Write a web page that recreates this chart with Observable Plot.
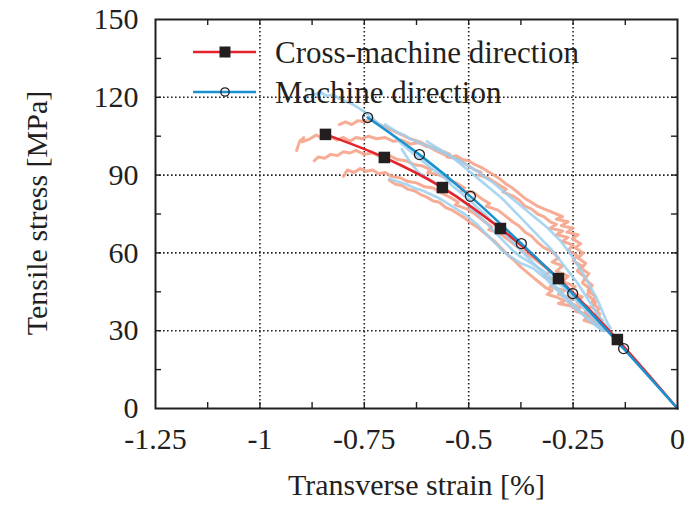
<!DOCTYPE html>
<html><head><meta charset="utf-8">
<script src="https://cdn.jsdelivr.net/npm/d3@7"></script>
<script src="https://cdn.jsdelivr.net/npm/@observablehq/plot@0.6"></script>
<style>body{margin:0;background:#fff} #chart{width:688px;height:505px}</style>
</head><body><div id="chart"></div>
<script>
// ---------- data ----------
const xTicks = [-1.25, -1, -0.75, -0.5, -0.25, 0];
const xTickLabels = ["-1.25", "-1", "-0.75", "-0.5", "-0.25", "0"];
const yTicks = [0, 30, 60, 90, 120, 150];
const yTickLabels = ["0", "30", "60", "90", "120", "150"];
const xGrid = [-1, -0.75, -0.5, -0.25];
const yGrid = [30, 60, 90, 120];
const xAllTicks = [-1.125, -1, -0.875, -0.75, -0.625, -0.5, -0.375, -0.25, -0.125];
const yAllTicks = [15, 30, 45, 60, 75, 90, 105, 120, 135];
const seriesNames = ["Cross-machine direction", "Machine direction"];
const xTitle = "Transverse strain [%]";
const yTitle = "Tensile stress [MPa]";

// fitted curves (marker points)
const cmdFitX = [-0.843, -0.702, -0.563, -0.424, -0.285, -0.144, 0];
const cmdFitY = [105.7, 96.8, 85.2, 69.4, 50.1, 26.6, 0];
const mdFitX = [-0.742, -0.618, -0.496, -0.374, -0.251, -0.129, 0];
const mdFitY = [112.2, 97.9, 81.8, 63.6, 44.3, 23.1, 0];

// raw test traces, cross-machine direction
const cmdRaw1 = [[-0.912,99.5],[-0.905,103],[-0.895,104.5],[-0.899,102.8],[-0.880,104],[-0.865,105.5],[-0.850,104],[-0.835,105],[-0.815,103.5],[-0.800,104.5],[-0.785,103],[-0.770,104.5],[-0.755,104],[-0.740,105],[-0.720,104],[-0.700,104.5],[-0.680,103],[-0.660,103.5],[-0.640,102],[-0.620,102.5],[-0.600,101],[-0.580,100.5],[-0.560,99],[-0.545,98],[-0.552,97],[-0.530,96.5],[-0.515,95],[-0.500,93.5],[-0.485,92],[-0.470,91],[-0.476,90],[-0.455,89],[-0.440,87.5],[-0.425,86],[-0.410,84.5],[-0.418,83.5],[-0.395,82],[-0.380,80.5],[-0.365,78],[-0.350,77],[-0.335,75],[-0.320,74],[-0.305,72],[-0.290,71],[-0.305,69.5],[-0.275,68.5],[-0.290,67],[-0.262,66],[-0.275,64.5],[-0.250,63],[-0.262,61],[-0.240,59],[-0.250,57],[-0.230,55],[-0.240,53],[-0.220,50.5],[-0.228,48.5],[-0.208,46],[-0.216,44],[-0.196,41],[-0.204,39],[-0.186,36.5],[-0.192,34.5],[-0.176,32.5],[-0.166,30.5]];
const cmdRaw2 = [[-0.870,95.5],[-0.860,97],[-0.845,96.5],[-0.830,98],[-0.815,97.5],[-0.800,99],[-0.785,98.5],[-0.770,99.5],[-0.750,98],[-0.730,98.5],[-0.710,97],[-0.690,97.5],[-0.670,96],[-0.650,95.5],[-0.630,94],[-0.610,93.5],[-0.590,92],[-0.598,91],[-0.570,90],[-0.550,88.5],[-0.530,87],[-0.510,85],[-0.518,84],[-0.490,83.5],[-0.470,81],[-0.450,79],[-0.458,78],[-0.430,76.5],[-0.410,74],[-0.395,72],[-0.380,70.5],[-0.365,68],[-0.350,66.5],[-0.335,64],[-0.320,62],[-0.300,60.5],[-0.285,58],[-0.300,56.5],[-0.275,55],[-0.290,53],[-0.262,51],[-0.275,49],[-0.245,47],[-0.258,45],[-0.228,43],[-0.240,41],[-0.210,39],[-0.222,37],[-0.195,35],[-0.205,33],[-0.180,31.5],[-0.170,30]];
const cmdRaw3 = [[-0.800,89.5],[-0.790,92],[-0.775,91],[-0.760,92.5],[-0.745,91.5],[-0.730,92],[-0.715,90.5],[-0.700,91],[-0.685,89.5],[-0.665,89],[-0.645,87.5],[-0.625,87],[-0.605,85.5],[-0.585,85],[-0.565,83],[-0.545,81.5],[-0.525,79.5],[-0.532,78.5],[-0.505,77],[-0.485,75],[-0.465,72.5],[-0.445,70],[-0.452,69],[-0.425,67.5],[-0.405,65],[-0.385,62.5],[-0.365,60],[-0.345,58],[-0.325,55.5],[-0.305,53],[-0.320,51],[-0.290,49],[-0.305,47],[-0.270,45.5],[-0.285,44],[-0.250,42.5],[-0.262,41],[-0.232,39],[-0.244,37.5],[-0.212,36],[-0.224,34],[-0.195,32.5],[-0.182,30.5]];
const cmdRaw4 = [[-0.690,88],[-0.675,86.5],[-0.660,86],[-0.645,84.5],[-0.630,84],[-0.615,82.5],[-0.600,81.5],[-0.585,80],[-0.570,79.5],[-0.555,77.5],[-0.540,76.5],[-0.525,75],[-0.510,73.5],[-0.495,71.5],[-0.480,70],[-0.465,68],[-0.450,66],[-0.435,64],[-0.420,61.5],[-0.405,59],[-0.390,57],[-0.375,54.5],[-0.360,52.5],[-0.345,50.5],[-0.330,48.5],[-0.315,46.5],[-0.300,45.5],[-0.312,44],[-0.290,43],[-0.270,41.5],[-0.285,40.5],[-0.255,39.5],[-0.240,38],[-0.225,36.5],[-0.210,35],[-0.196,33.5],[-0.184,32],[-0.174,30.5]];
const cmdRaw5 = [[-0.810,109.5],[-0.795,110.5],[-0.780,109.5],[-0.765,111],[-0.750,110.5],[-0.735,111.5],[-0.720,110],[-0.700,108.5],[-0.680,107],[-0.660,105.5],[-0.640,104],[-0.620,103],[-0.600,101.5],[-0.580,99.5],[-0.560,98],[-0.545,97],[-0.530,97.5],[-0.515,96],[-0.500,95.5],[-0.485,94],[-0.470,93],[-0.455,91.5],[-0.440,90],[-0.425,88.5],[-0.410,86.5],[-0.395,85],[-0.380,83],[-0.365,81],[-0.350,79.5],[-0.335,78],[-0.320,77],[-0.305,76],[-0.290,75],[-0.275,74],[-0.290,73],[-0.262,72],[-0.278,70.5],[-0.250,69.5],[-0.265,68],[-0.238,67],[-0.252,65.5],[-0.232,63.5],[-0.245,62],[-0.226,60],[-0.238,58],[-0.220,56],[-0.230,54],[-0.212,52],[-0.222,50],[-0.204,47.5],[-0.214,45.5],[-0.196,43],[-0.205,41],[-0.188,38.5],[-0.196,36.5],[-0.180,34],[-0.186,32],[-0.172,30.5]];

// raw test traces, machine direction
const mdRaw1 = [[-0.870,121],[-0.855,122],[-0.840,120.5],[-0.825,121],[-0.810,119.5],[-0.795,118.5],[-0.780,117.5],[-0.765,116],[-0.750,114.5],[-0.735,112.5],[-0.720,110.5],[-0.705,108.5],[-0.690,106.5],[-0.675,104.5],[-0.660,102],[-0.645,100],[-0.630,98],[-0.615,96],[-0.600,94],[-0.585,92],[-0.570,90.5],[-0.555,88.5],[-0.540,86],[-0.525,84],[-0.510,82],[-0.495,80],[-0.480,77.5],[-0.465,75.5],[-0.450,73],[-0.435,71],[-0.420,68.5],[-0.405,66],[-0.390,63.5],[-0.375,61],[-0.360,58.5],[-0.345,56],[-0.330,53.5],[-0.315,51],[-0.300,48.5],[-0.285,46],[-0.270,43.5],[-0.255,41],[-0.240,38.5],[-0.225,36],[-0.210,34],[-0.195,32],[-0.180,30]];
const mdRaw2 = [[-0.700,109.5],[-0.685,108],[-0.670,106.5],[-0.655,105.5],[-0.640,104],[-0.625,103],[-0.610,102],[-0.595,101],[-0.580,100],[-0.565,99],[-0.550,98],[-0.535,96.5],[-0.520,95.5],[-0.505,94],[-0.490,92.5],[-0.475,91],[-0.460,89],[-0.445,87.5],[-0.430,85.5],[-0.415,83.5],[-0.400,81.5],[-0.385,79.5],[-0.370,77.5],[-0.355,75.5],[-0.340,73.5],[-0.325,71.5],[-0.310,69.5],[-0.295,67],[-0.282,65],[-0.270,62.5],[-0.258,60],[-0.246,57],[-0.234,54],[-0.222,51],[-0.212,48],[-0.202,45],[-0.192,42],[-0.184,39],[-0.176,36],[-0.168,33],[-0.160,31]];
const mdRaw3 = [[-0.660,100],[-0.650,97.5],[-0.640,95],[-0.630,93],[-0.620,91],[-0.605,89.5],[-0.590,88],[-0.575,86.5],[-0.560,85],[-0.545,83.5],[-0.530,82],[-0.515,80],[-0.500,78],[-0.485,76],[-0.470,73.5],[-0.455,71],[-0.440,68.5],[-0.425,66],[-0.410,63.5],[-0.395,61],[-0.380,59],[-0.365,57.5],[-0.350,56],[-0.335,54.5],[-0.320,53],[-0.305,51],[-0.290,49],[-0.275,47],[-0.260,44.5],[-0.245,42],[-0.230,39.5],[-0.215,37],[-0.200,34.5],[-0.186,32],[-0.174,30]];
const mdRaw4 = [[-0.690,88.5],[-0.670,87.5],[-0.650,86.5],[-0.630,85],[-0.610,84],[-0.590,82.5],[-0.570,81],[-0.550,79],[-0.530,77],[-0.510,75],[-0.495,73],[-0.480,71],[-0.465,68.5],[-0.450,66],[-0.435,63.5],[-0.420,61],[-0.405,59],[-0.390,57.5],[-0.375,56],[-0.360,55],[-0.345,54],[-0.330,52],[-0.315,50],[-0.300,47.5],[-0.285,45],[-0.270,42.5],[-0.255,40],[-0.240,38],[-0.225,36],[-0.210,34],[-0.196,32],[-0.182,30.5]];
const mdRaw5 = [[-0.600,103],[-0.585,101.5],[-0.570,100],[-0.555,98.5],[-0.540,97],[-0.525,95],[-0.510,93],[-0.495,91],[-0.480,89],[-0.465,87],[-0.450,85],[-0.435,83],[-0.420,81],[-0.405,78.5],[-0.390,76],[-0.375,73.5],[-0.360,71],[-0.345,68.5],[-0.330,66],[-0.315,63.5],[-0.300,61],[-0.288,58.5],[-0.276,56],[-0.264,53.5],[-0.252,51],[-0.240,48.5],[-0.230,46],[-0.220,43.5],[-0.210,41],[-0.200,38.5],[-0.190,36],[-0.180,33.5],[-0.170,31.5],[-0.162,30]];

// ---------- build tables ----------
const toRows = (traces) => traces.flatMap((t, k) => t.map(([x, y]) => ({x, y, k})));
const cmdRaw = toRows([cmdRaw1, cmdRaw2, cmdRaw3, cmdRaw4, cmdRaw5]);
const mdRaw = toRows([mdRaw1, mdRaw2, mdRaw3, mdRaw4, mdRaw5]);
const cmdFit = cmdFitX.map((x, i) => ({x, y: cmdFitY[i]}));
const mdFit = mdFitX.map((x, i) => ({x, y: mdFitY[i]}));

const ink = "#231f20";
const red = "#e5232b", blue = "#1a92d0", salmon = "#f6a48a", lightBlue = "#9ccfee";
const font = "'Liberation Serif', 'Times New Roman', serif";
const frameH = 505 - 19 - 97, frameW = 688 - 155 - 11, tl = 6;

const plot = Plot.plot({
  width: 688, height: 505,
  marginLeft: 155, marginRight: 11, marginTop: 19, marginBottom: 97,
  style: {fontFamily: font, fontSize: "30px", color: ink, background: "#fff"},
  x: {domain: [-1.25, 0], axis: null},
  y: {domain: [0, 150], axis: null},
  marks: [
    Plot.ruleX(xGrid, {stroke: ink, strokeWidth: 1.6, strokeDasharray: "1.6,2.4"}),
    Plot.ruleY(yGrid, {stroke: ink, strokeWidth: 1.6, strokeDasharray: "1.6,2.4"}),
    Plot.line(cmdRaw, {x: "x", y: "y", z: "k", stroke: salmon, strokeWidth: 3, strokeOpacity: 0.9}),
    Plot.line(mdRaw, {x: "x", y: "y", z: "k", stroke: lightBlue, strokeWidth: 2.7, strokeOpacity: 0.85}),
    Plot.line(cmdFit, {x: "x", y: "y", stroke: red, strokeWidth: 2.6, curve: "catmull-rom"}),
    Plot.line(mdFit, {x: "x", y: "y", stroke: blue, strokeWidth: 2.6, curve: "catmull-rom"}),
    Plot.dot(cmdFit.slice(0, -1), {x: "x", y: "y", symbol: "square", r: 6.5, fill: ink}),
    Plot.dot(mdFit.slice(0, -1), {x: "x", y: "y", r: 5, stroke: ink, strokeWidth: 1.3, fill: "none"}),
    // inward ticks
    Plot.ruleX(xAllTicks, {stroke: ink, strokeWidth: 1.4, insetTop: frameH - tl}),
    Plot.ruleX(xAllTicks, {stroke: ink, strokeWidth: 1.4, insetBottom: frameH - tl}),
    Plot.ruleY(yAllTicks, {stroke: ink, strokeWidth: 1.4, insetRight: frameW - tl}),
    Plot.ruleY(yAllTicks, {stroke: ink, strokeWidth: 1.4, insetLeft: frameW - tl}),
    Plot.frame({stroke: ink, strokeWidth: 2}),
    Plot.axisX(xTicks, {anchor: "bottom", tickSize: 0, tickPadding: 19, fontSize: 30,
      tickFormat: d => xTickLabels[xTicks.indexOf(d)], label: null}),
    Plot.axisY(yTicks, {anchor: "left", tickSize: 0, tickPadding: 17, fontSize: 30,
      tickFormat: d => yTickLabels[yTicks.indexOf(d)], label: null}),
    Plot.text([xTitle], {frameAnchor: "bottom", dy: 86, fontSize: 30, fill: ink})
  ]
});

const svg = d3.select(plot);
// y-axis title
svg.append("text").attr("transform", "translate(36,213) rotate(-90)")
  .attr("text-anchor", "middle").attr("dominant-baseline", "central")
  .attr("font-family", font).attr("font-size", 30).attr("fill", ink).text(yTitle);

// legend (inside plot area, top-left)
const lg = svg.append("g").attr("font-family", font).attr("font-size", 31)
  .attr("fill", ink).attr("text-anchor", "start");
const items = [
  {name: seriesNames[0], color: red, y: 52, sym: "square"},
  {name: seriesNames[1], color: blue, y: 92, sym: "circle"}
];
items.forEach(it => {
  lg.append("line").attr("x1", 193).attr("x2", 256).attr("y1", it.y).attr("y2", it.y)
    .attr("stroke", it.color).attr("stroke-width", 2.6);
  if (it.sym === "square") {
    lg.append("rect").attr("x", 225 - 5.5).attr("y", it.y - 5.5).attr("width", 11).attr("height", 11).attr("fill", ink);
  } else {
    lg.append("circle").attr("cx", 225).attr("cy", it.y).attr("r", 4.2).attr("fill", "none")
      .attr("stroke", ink).attr("stroke-width", 1.3);
  }
  lg.append("text").attr("x", 275).attr("y", it.y + 11).text(it.name);
});

document.getElementById("chart").appendChild(plot);
</script>
</body></html>
